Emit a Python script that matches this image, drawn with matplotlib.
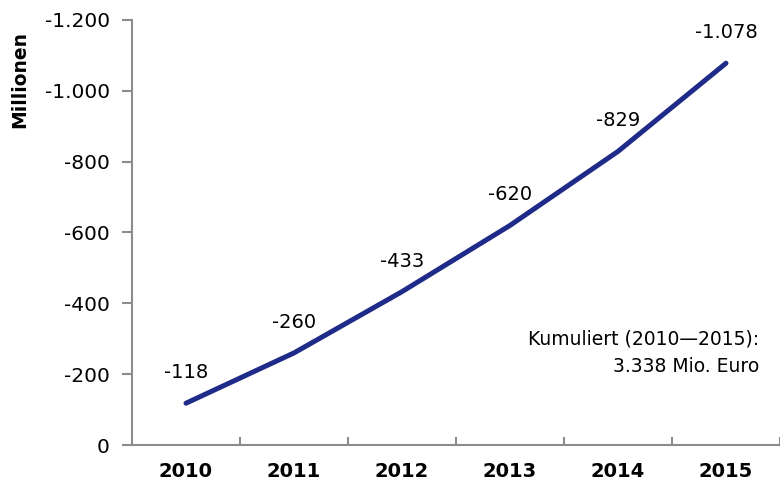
# Kumulierte Belastung 2010-2015, Linie mit Datenbeschriftung
import matplotlib.pyplot as plt
from matplotlib.ticker import FuncFormatter

years = ["2010", "2011", "2012", "2013", "2014", "2015"]
values = [-118, -260, -433, -620, -829, -1078]
labels = ["-118", "-260", "-433", "-620", "-829", "-1.078"]
y_ticks = [0, -200, -400, -600, -800, -1000, -1200]

plt.rcParams["font.family"] = ["DejaVu Sans"]
axis_grey = "#8c8c8c"
line_blue = "#1f2b88"

fig = plt.figure(figsize=(7.8, 4.86), dpi=100)
ax = fig.add_axes([132 / 780, 41 / 486, 1 - 132 / 780, 425 / 486])

x = list(range(len(years)))
ax.plot(x, values, color=line_blue, linewidth=3.6, solid_capstyle="round")

for xi, v, lab in zip(x, values, labels):
    ax.annotate(lab, (xi, v), xytext=(0, 22), textcoords="offset points",
                ha="center", va="center", fontsize=14)

ax.set_xlim(-0.5, 5.445)
ax.set_ylim(0, -1200)

ax.set_xticks(x)
ax.set_xticklabels(years, fontsize=14, fontweight="bold")
ax.set_xticks([i + 0.5 for i in range(len(years))], minor=True)
ax.tick_params(axis="x", which="major", length=0, pad=12)
ax.tick_params(axis="x", which="minor", direction="in", length=6, color=axis_grey, width=1.5)

ax.set_yticks(y_ticks)
ax.yaxis.set_major_formatter(FuncFormatter(lambda v, p: f"{v:,.0f}".replace(",", ".")))
ax.tick_params(axis="y", direction="out", length=7, color=axis_grey, width=1.5,
               labelsize=14.5, pad=9)

for side in ["top", "right"]:
    ax.spines[side].set_visible(False)
for side in ["left", "bottom"]:
    ax.spines[side].set_color(axis_grey)
    ax.spines[side].set_linewidth(1.5)
ax.spines["bottom"].set_clip_on(False)

ax.text(5.31, -260, "Kumuliert (2010\u20142015):\n3.338 Mio. Euro", ha="right", va="center",
        multialignment="right", fontsize=13.5, linespacing=1.6)

fig.text(20 / 780, 1 - 80 / 486, "Millionen", rotation=90, ha="center", va="center",
         fontsize=13.5, fontweight="bold")

fig.savefig("out.png", dpi=100)
